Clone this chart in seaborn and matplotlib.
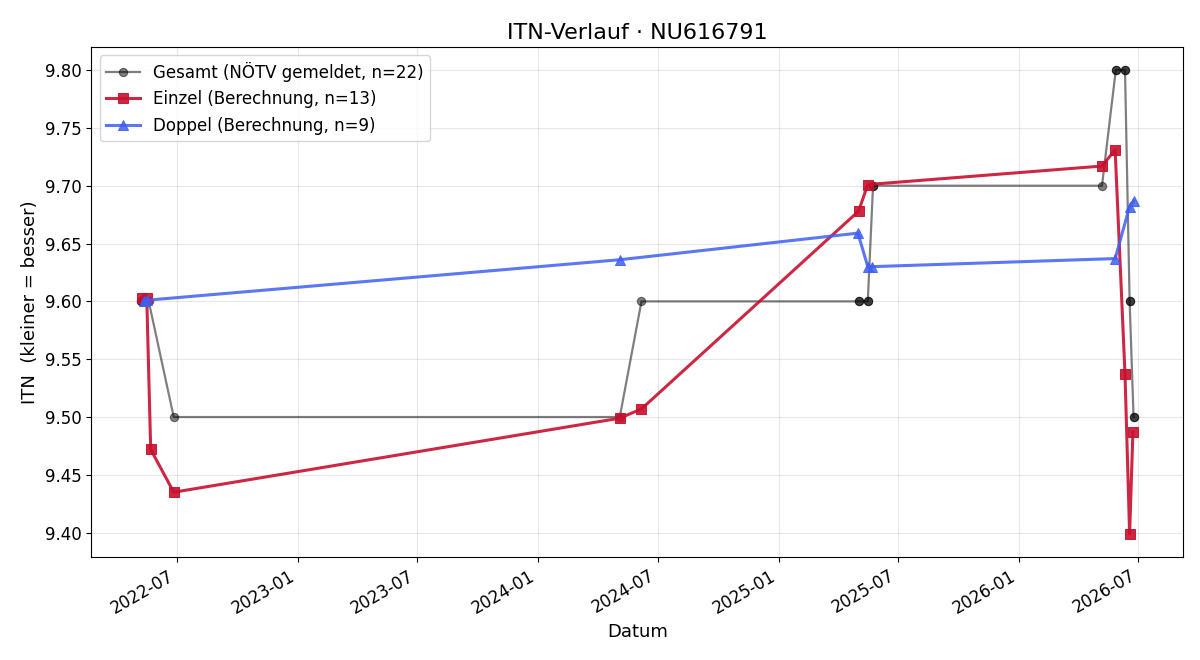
import pandas as pd
import numpy as np
import matplotlib
matplotlib.use('Agg')
import matplotlib.pyplot as plt
import matplotlib.dates as mdates
import seaborn as sns

# Gesamt (NÖTV gemeldet)
ges_dates = ['2022-05-07', '2022-05-07', '2022-05-15', '2022-05-19', '2022-06-26',
             '2024-05-04', '2024-06-06', '2025-05-02', '2025-05-02', '2025-05-16',
             '2025-05-16', '2025-05-24', '2025-05-24', '2026-05-07', '2026-05-28',
             '2026-05-28', '2026-06-11', '2026-06-11', '2026-06-18', '2026-06-18',
             '2026-06-24', '2026-06-24']
ges_itn = [9.60, 9.60, 9.60, 9.60, 9.50,
           9.50, 9.60, 9.60, 9.60, 9.60,
           9.60, 9.70, 9.70, 9.70, 9.80,
           9.80, 9.80, 9.80, 9.60, 9.60,
           9.50, 9.50]

# Einzel (Berechnung)
ein_dates = ['2022-05-09', '2022-05-16', '2022-05-22', '2022-06-26', '2024-05-04',
             '2024-06-06', '2025-05-02', '2025-05-16', '2026-05-07', '2026-05-27',
             '2026-06-11', '2026-06-18', '2026-06-23']
ein_itn = [9.603, 9.603, 9.472, 9.435, 9.499,
           9.507, 9.678, 9.701, 9.717, 9.731,
           9.537, 9.399, 9.487]

# Doppel (Berechnung)
dop_dates = ['2022-05-12', '2022-05-16', '2024-05-04', '2025-05-01', '2025-05-16',
             '2025-05-22', '2026-05-27', '2026-06-18', '2026-06-24']
dop_itn = [9.600, 9.601, 9.636, 9.659, 9.630,
           9.630, 9.637, 9.682, 9.687]

ges = pd.DataFrame({'Datum': pd.to_datetime(ges_dates), 'ITN': ges_itn})
ein = pd.DataFrame({'Datum': pd.to_datetime(ein_dates), 'ITN': ein_itn})
dop = pd.DataFrame({'Datum': pd.to_datetime(dop_dates), 'ITN': dop_itn})

fig, ax = plt.subplots(figsize=(12, 6.6), dpi=100)

sns.lineplot(data=ges, x='Datum', y='ITN', ax=ax, estimator=None, sort=False,
             color='black', alpha=0.5, marker='o', markersize=6, markeredgecolor='black',
             linewidth=1.6, label='Gesamt (NÖTV gemeldet, n=%d)' % len(ges))
sns.lineplot(data=ein, x='Datum', y='ITN', ax=ax, estimator=None, sort=False,
             color='#c8102e', alpha=0.9, marker='s', markersize=7, markeredgecolor='#c8102e',
             linewidth=2.2, label='Einzel (Berechnung, n=%d)' % len(ein))
sns.lineplot(data=dop, x='Datum', y='ITN', ax=ax, estimator=None, sort=False,
             color='#3f5ff0', alpha=0.85, marker='^', markersize=7, markeredgecolor='#3f5ff0',
             linewidth=2.2, label='Doppel (Berechnung, n=%d)' % len(dop))

ax.set_title('ITN-Verlauf · NU616791', fontsize=16)
ax.set_xlabel('Datum', fontsize=13)
ax.set_ylabel('ITN  (kleiner = besser)', fontsize=13)
ax.grid(True, alpha=0.3)
ax.xaxis.set_major_locator(mdates.MonthLocator(bymonth=[1, 7]))
ax.xaxis.set_major_formatter(mdates.DateFormatter('%Y-%m'))
ax.yaxis.set_major_formatter(matplotlib.ticker.FormatStrFormatter('%.2f'))
ax.tick_params(labelsize=12)
ax.legend(loc='upper left', fontsize=12)
fig.autofmt_xdate()
fig.subplots_adjust(left=0.076, right=0.986, top=0.929, bottom=0.156)
fig.savefig('out.png')
